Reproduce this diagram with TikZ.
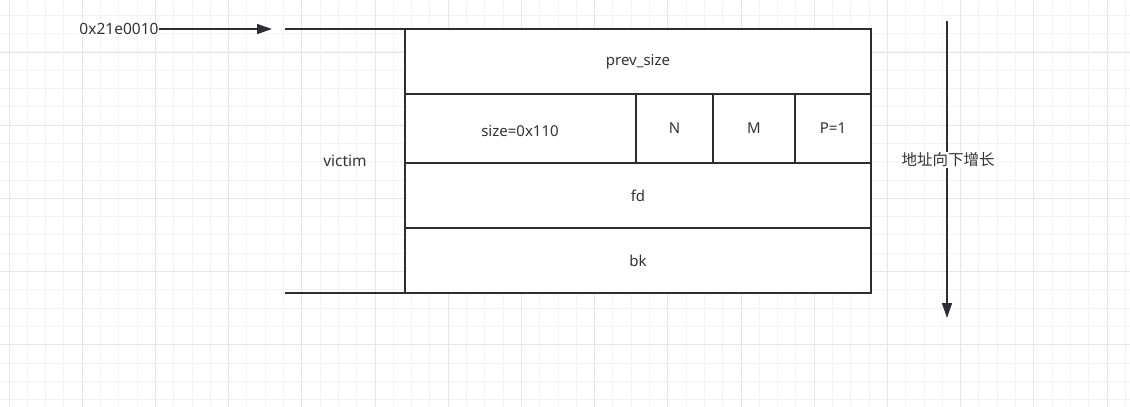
\documentclass[tikz,border=0pt]{standalone}
\usepackage{fontspec}
\setmainfont{Noto Sans}
\newfontfamily\cjk{Noto Sans CJK SC}
\usetikzlibrary{arrows.meta}
\definecolor{ink}{HTML}{2B2F33}
\definecolor{txt}{HTML}{333333}
\definecolor{gridminor}{HTML}{F3F3F3}
\definecolor{gridmajor}{HTML}{E6E6E6}
\tikzset{
  cell/.style={draw=ink, line width=1.6pt, fill=white, rectangle, anchor=north west,
    inner sep=0pt, outer sep=0pt, text=txt, font=\fontsize{15}{18}\selectfont},
  lbl/.style={text=txt, font=\fontsize{15.5}{18}\selectfont, inner sep=1pt},
  conn/.style={draw=ink, line width=1.4pt},
  arr/.style={conn, -{Triangle[length=15pt,width=10pt]}},
}
\begin{document}
\begin{tikzpicture}[x=1pt,y=-1pt]
\useasboundingbox (0,0) rectangle (1130,407);
\fill[white] (0,0) rectangle (1130,407);
% grid
\foreach \i in {0,...,62} {
  \pgfmathsetmacro\gx{-9.3+18.3*\i}
  \draw[gridminor, line width=1pt] (\gx,0) -- (\gx,407);
}
\foreach \i in {0,...,23} {
  \pgfmathsetmacro\gy{-3+18.3*\i}
  \draw[gridminor, line width=1pt] (0,\gy) -- (1130,\gy);
}
\foreach \i in {0,...,15} {
  \pgfmathsetmacro\gx{9+73.2*\i}
  \draw[gridmajor, line width=1pt] (\gx,0) -- (\gx,407);
}
\foreach \i in {0,...,6} {
  \pgfmathsetmacro\gy{-21.2+73.2*\i}
  \draw[gridmajor, line width=1pt] (0,\gy) -- (1130,\gy);
}
% chunk cells
\node[cell, minimum width=466pt, minimum height=65pt] (prev) at (405,29) {prev\_size};
\node[cell, minimum width=231pt, minimum height=69pt] (size) at (405,94) {};
\node[text=txt, font=\fontsize{15}{18}\selectfont] (sizet) at (520,131) {size=0x110};
\node[cell, minimum width=77pt, minimum height=69pt] (nbit) at (636,94) {N};
\node[cell, minimum width=82pt, minimum height=69pt] (mbit) at (713,94) {M};
\node[cell, minimum width=76pt, minimum height=69pt] (pbit) at (795,94) {P=1};
\node[cell, minimum width=466pt, minimum height=65pt] (fd) at (405,163) {fd};
\node[cell, minimum width=466pt, minimum height=65pt] (bk) at (405,228) {bk};
% bracket lines
\coordinate (btop) at (285,29);
\coordinate (bbot) at (285,293);
\draw[conn, line width=1.6pt] (btop) -- (prev.north west);
\draw[conn, line width=1.6pt] (bbot) -- (bk.south west);
\node[lbl] (victim) at (345,161) {victim};
% address arrow
\node[lbl, fill=white, inner sep=0pt] (addr) at (119,29) {0x21e0010};
\coordinate (atip) at (272,29);
\draw[arr] (addr.east) -- (atip);
% growth arrow
\coordinate (gtop) at (947,21);
\coordinate (gbot) at (947,318);
\draw[arr] (gtop) -- (gbot);
\node[lbl, fill=white, font=\cjk\fontsize{15.5}{18}\selectfont, inner sep=0.5pt] (grow) at (948,160) {地址向下增长};
\end{tikzpicture}
\end{document}
